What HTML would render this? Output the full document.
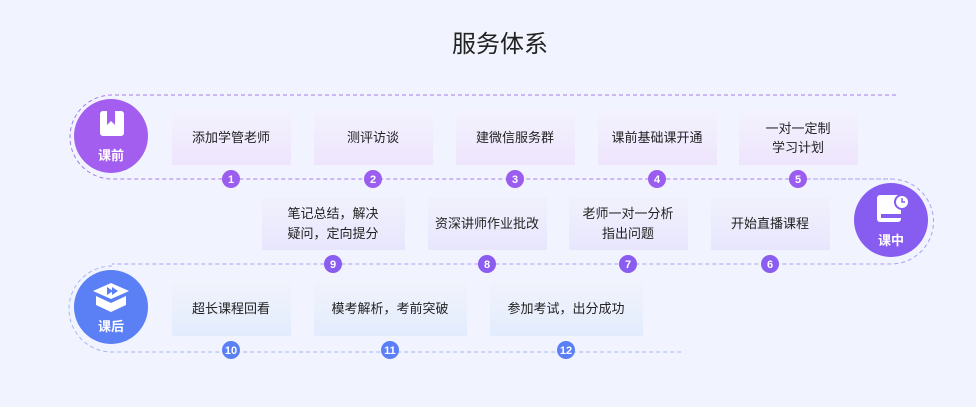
<!DOCTYPE html>
<html><head><meta charset="utf-8"><style>
html,body{margin:0;padding:0;background:#f1f4fe;}
svg{display:block}
text{font-family:"Liberation Sans","Noto Sans CJK SC",sans-serif;}
</style></head><body>
<svg width="976" height="407" viewBox="0 0 976 407" xmlns="http://www.w3.org/2000/svg">
<defs>
<linearGradient id="g1" x1="0" y1="0" x2="0" y2="1"><stop offset="0" stop-color="#f3f2fd"/><stop offset="1" stop-color="#eee5fd"/></linearGradient>
<linearGradient id="g2" x1="0" y1="0" x2="0" y2="1"><stop offset="0" stop-color="#f1f1fd"/><stop offset="1" stop-color="#e8e6fd"/></linearGradient>
<linearGradient id="g3" x1="0" y1="0" x2="0" y2="1"><stop offset="0" stop-color="#f2f3fb"/><stop offset="1" stop-color="#e2ecfd"/></linearGradient>
</defs>
<rect width="976" height="407" fill="#f1f4fe"/>
<text x="500" y="52" font-size="24" text-anchor="middle" fill="#222">服务体系</text>

<!-- dashed paths -->
<g fill="none" stroke-width="1" stroke-dasharray="4 3">
<path d="M896 95 H112 A42 42 0 0 0 112 179 H891" stroke="#a77af0"/>
<path d="M800 179 H891 A42.5 42.5 0 0 1 891 264 H112" stroke="#a9a0f2"/>
<path d="M112 266 A43 43 0 0 0 112 352 H684" stroke="#a8b6f4"/>
</g>

<!-- boxes row1 -->
<g fill="url(#g1)">
<rect x="172" y="110" width="119" height="55"/><rect x="314" y="110" width="119" height="55"/>
<rect x="456" y="110" width="119" height="55"/><rect x="598" y="110" width="119" height="55"/>
<rect x="739" y="110" width="119" height="55"/>
</g>
<g fill="url(#g2)">
<rect x="262" y="197" width="143" height="53"/><rect x="428" y="197" width="119" height="53"/>
<rect x="569" y="197" width="119" height="53"/><rect x="711" y="197" width="119" height="53"/>
</g>
<g fill="url(#g3)">
<rect x="172" y="281" width="119" height="55"/><rect x="314" y="281" width="153" height="55"/>
<rect x="490" y="281" width="153" height="55"/>
</g>

<g font-size="13" fill="#222" text-anchor="middle">
<text x="231" y="142">添加学管老师</text>
<text x="373" y="142">测评访谈</text>
<text x="515" y="142">建微信服务群</text>
<text x="657" y="142">课前基础课开通</text>
<text x="798" y="133">一对一定制</text>
<text x="798" y="152">学习计划</text>
<text x="333" y="218">笔记总结，解决</text>
<text x="333" y="238">疑问，定向提分</text>
<text x="487" y="228">资深讲师作业批改</text>
<text x="628" y="218">老师一对一分析</text>
<text x="628" y="238">指出问题</text>
<text x="770" y="228">开始直播课程</text>
<text x="231" y="313">超长课程回看</text>
<text x="390" y="313">模考解析，考前突破</text>
<text x="566" y="313">参加考试，出分成功</text>
</g>

<!-- badges -->
<g font-size="11" font-weight="bold" fill="#fff" text-anchor="middle">
<g fill="#9b5cf0"><circle cx="231" cy="179" r="9"/><circle cx="373" cy="179" r="9"/><circle cx="515" cy="179" r="9"/><circle cx="657" cy="179" r="9"/><circle cx="798" cy="179" r="9"/></g>
<g fill="#8a5cf0"><circle cx="333" cy="264" r="9"/><circle cx="487" cy="264" r="9"/><circle cx="628" cy="264" r="9"/><circle cx="770" cy="264" r="9"/></g>
<g fill="#5b7ff5"><circle cx="231" cy="350" r="9"/><circle cx="390" cy="350" r="9"/><circle cx="566" cy="350" r="9"/></g>
<text x="231" y="183">1</text><text x="373" y="183">2</text><text x="515" y="183">3</text><text x="657" y="183">4</text><text x="798" y="183">5</text>
<text x="333" y="268">9</text><text x="487" y="268">8</text><text x="628" y="268">7</text><text x="770" y="268">6</text>
<text x="231" y="354">10</text><text x="390" y="354">11</text><text x="566" y="354">12</text>
</g>

<!-- big circles -->
<circle cx="111" cy="136" r="37" fill="#a35ef0"/>
<rect x="100" y="111" width="24" height="25" rx="3" fill="#fff"/>
<path d="M107 111 V125 L111 121 L115 125 V111 Z" fill="#a35ef0"/>
<text x="111" y="160" font-size="13" font-weight="bold" fill="#fff" text-anchor="middle">课前</text>

<circle cx="891" cy="220" r="37" fill="#875cf0"/>
<rect x="877" y="195" width="24" height="27" rx="3" fill="#fff"/>
<rect x="881" y="214" width="20" height="4" fill="#875cf0"/>
<circle cx="902" cy="202" r="7" fill="#fff" stroke="#875cf0" stroke-width="2"/>
<path d="M902 198 V202 H905" stroke="#875cf0" stroke-width="1.5" fill="none"/>
<text x="891" y="245" font-size="13" font-weight="bold" fill="#fff" text-anchor="middle">课中</text>

<circle cx="111" cy="307" r="37" fill="#5b7ff5"/>
<path d="M93 291 L111 283 L129 291 L111 299 Z" fill="#fff"/>
<path d="M96 296 L111 303 L126 296 V305 L111 312 L96 305 Z" fill="#fff"/>
<path d="M107 287 L113 291 L107 295 Z M112 287 L118 291 L112 295 Z" fill="#5b7ff5"/>
<text x="111" y="331" font-size="13" font-weight="bold" fill="#fff" text-anchor="middle">课后</text>
</svg>
</body></html>
